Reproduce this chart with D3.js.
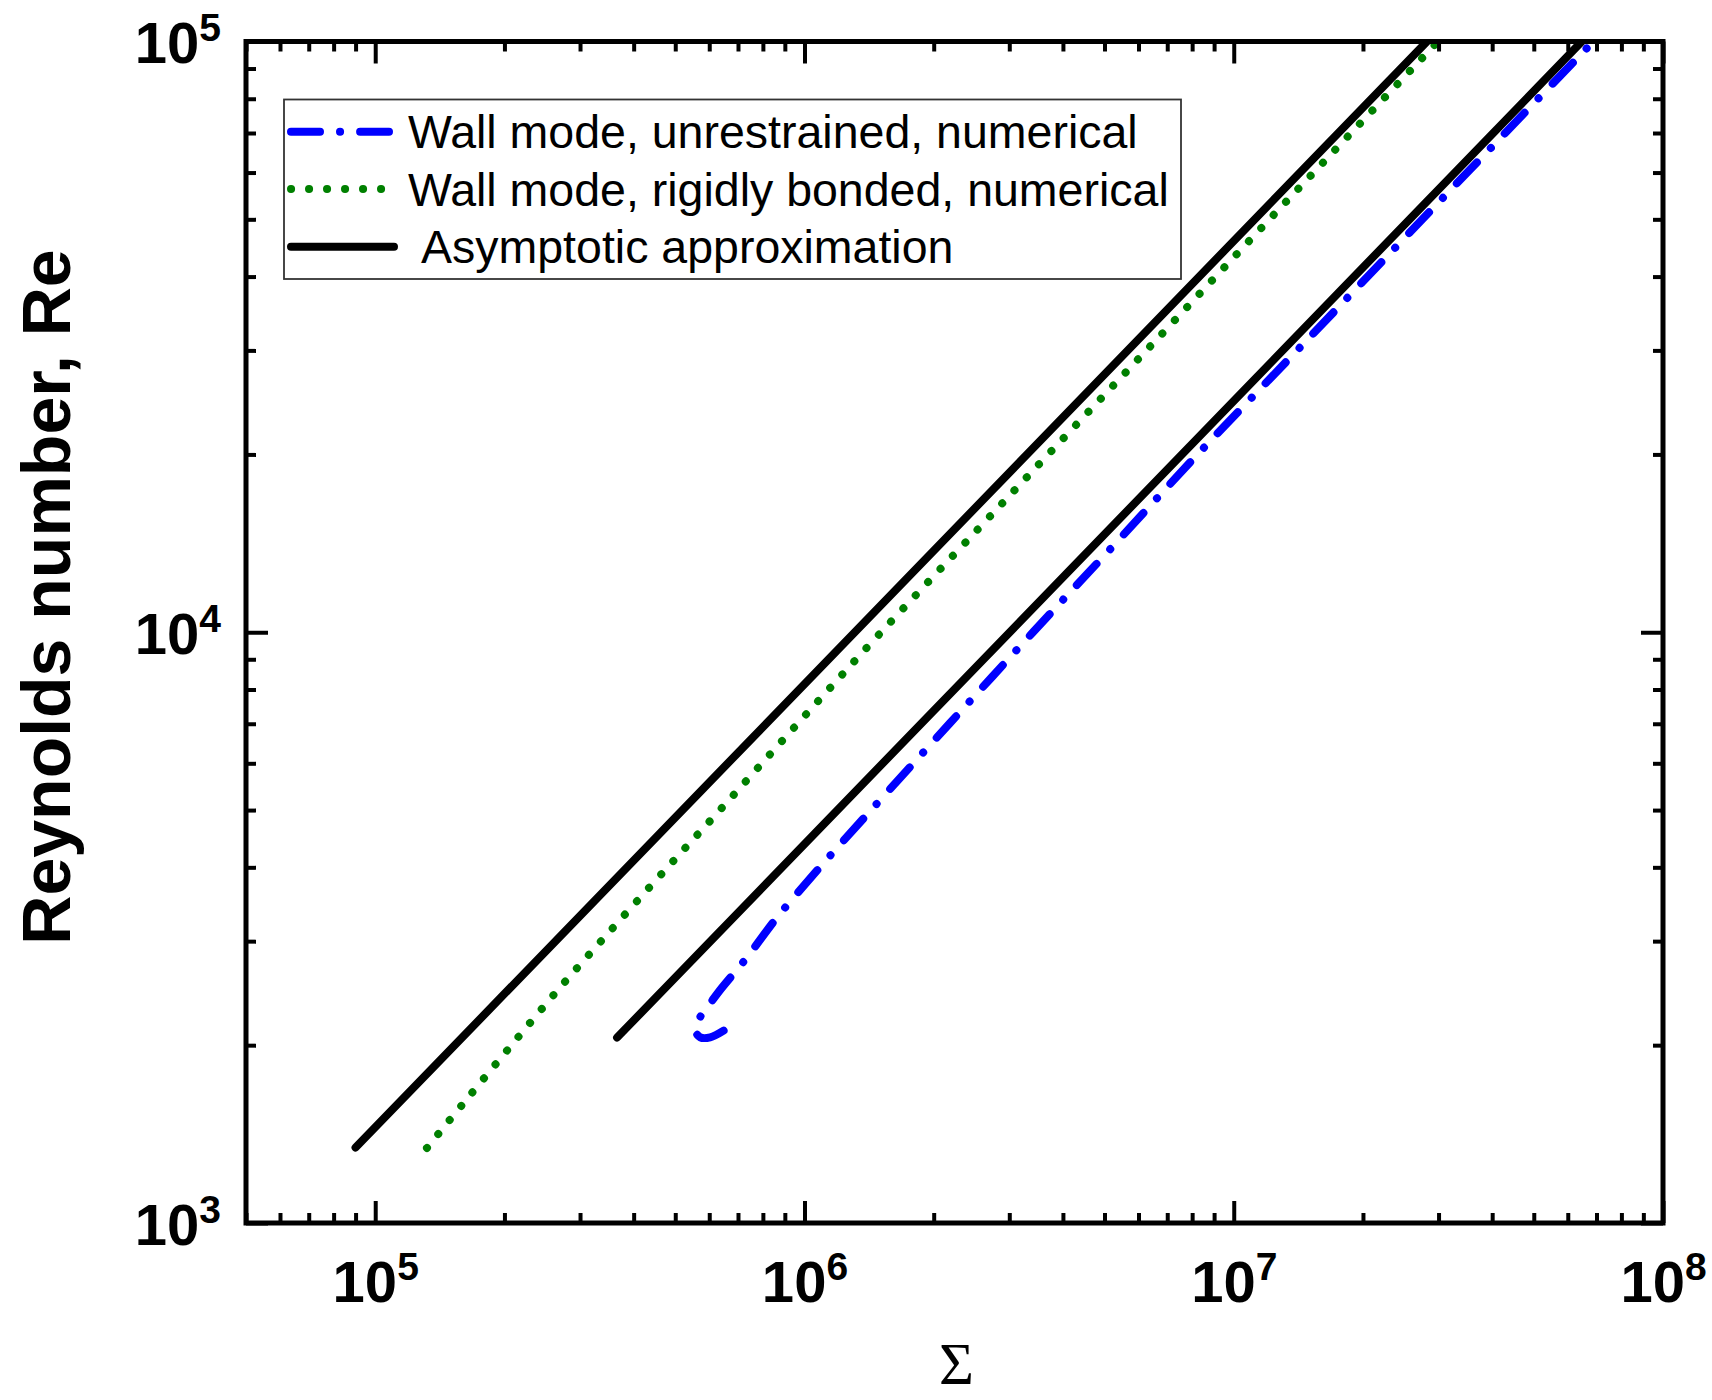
<!DOCTYPE html>
<html>
<head>
<meta charset="utf-8">
<script src="https://cdn.jsdelivr.net/npm/d3@7"></script>
<style>
  html, body { margin: 0; padding: 0; background: #fff; }
</style>
</head>
<body>
<svg id="chart" width="1712" height="1400"></svg>
<script>
// ---- Data: Σ (x) versus critical Reynolds number Re (y) ----

// Wall mode, unrestrained wall – numerical neutral curve (from the nose upward)
const unrestrainedSigma = [6.48e5, 6.03e5, 5.72e5, 5.56e5, 5.72e5, 6.03e5, 6.36e5, 7.30e5, 8.66e5,
                           1.086e6, 1.429e6, 2.175e6, 3.406e6, 5.238e6, 8.235e6, 1.405e7, 2.750e7, 4.699e7, 6.88e7];
const unrestrainedRe    = [2116, 2062, 2062, 2122, 2235, 2354, 2480, 2800, 3300,
                           4000, 5000, 7000, 10000, 14000, 20000, 30000, 50000, 75000, 100000];

// Wall mode, rigidly bonded wall – numerical
const bondedSigma = [1.320e5, 1.611e5, 2.077e5, 2.689e5, 3.358e5, 4.797e5, 6.353e5, 9.634e5,
                     1.508e6, 2.548e6, 3.696e6, 6.259e6, 1.211e7, 1.876e7, 2.991e7];
const bondedRe    = [1340, 1600, 2000, 2500, 3000, 4000, 5000, 7000,
                     10000, 15000, 20000, 30000, 50000, 70000, 100000];

// Asymptotic approximations (straight lines, Re ~ Σ^(3/4))
const asymBondedSigma = [9.0e4, 2.82e7];
const asymBondedRe    = [1342, 100000];
const asymUnrestrainedSigma = [3.66e5, 6.47e7];
const asymUnrestrainedRe    = [2060, 100000];

// Axis ticks
const xMajorTicks = [1e5, 1e6, 1e7, 1e8];
const yMajorTicks = [1e3, 1e4, 1e5];

// Legend entries
const legendLabels = ["Wall mode, unrestrained, numerical",
                      "Wall mode, rigidly bonded, numerical",
                      "Asymptotic approximation"];

// ---- Layout ----
const L = 246, R = 1663, T = 41.5, B = 1223;
const SANS = "'Liberation Sans', Arial, Helvetica, sans-serif";

const svg = d3.select("#chart");

const x = d3.scaleLog().domain([5e4, 1e8]).range([L, R]);
const y = d3.scaleLog().domain([1e3, 1e5]).range([B, T]);

function minorTicks(lo, hi) {
  const out = [];
  for (let e = Math.floor(Math.log10(lo)); e <= Math.ceil(Math.log10(hi)); e++) {
    for (let m = 2; m <= 9; m++) {
      const v = m * Math.pow(10, e);
      if (v >= lo * 0.999 && v <= hi * 1.001) out.push(v);
    }
  }
  return out;
}
const xMinorTicks = minorTicks(5e4, 1e8);
const yMinorTicks = minorTicks(1e3, 1e5);

// ---- Series styles ----
const styles = {
  unrestrained: { color: "#0000ff", width: 8, dash: "29 20 0.1 20" },
  bonded:       { color: "#008000", width: 8, dash: "0.1 17.9" },
  asymptotic:   { color: "#000000", width: 8, dash: null }
};

// ---- Curves ----
svg.append("defs").append("clipPath").attr("id", "plotClip")
  .append("rect").attr("x", L).attr("y", T).attr("width", R - L).attr("height", B - T);

const plot = svg.append("g").attr("clip-path", "url(#plotClip)");

function zip(xs, ys) { return xs.map((v, i) => [v, ys[i]]); }

const smoothLine = d3.line().x(d => x(d[0])).y(d => y(d[1])).curve(d3.curveCatmullRom.alpha(0.5));
const straightLine = d3.line().x(d => x(d[0])).y(d => y(d[1]));

function drawSeries(gen, data, st) {
  const p = plot.append("path")
    .attr("d", gen(data))
    .attr("fill", "none")
    .attr("stroke", st.color)
    .attr("stroke-width", st.width)
    .attr("stroke-linecap", "round")
    .attr("stroke-linejoin", "round");
  if (st.dash) p.attr("stroke-dasharray", st.dash);
}

drawSeries(straightLine, zip(asymBondedSigma, asymBondedRe), styles.asymptotic);
drawSeries(straightLine, zip(asymUnrestrainedSigma, asymUnrestrainedRe), styles.asymptotic);
drawSeries(smoothLine, zip(bondedSigma, bondedRe), styles.bonded);
drawSeries(smoothLine, zip(unrestrainedSigma, unrestrainedRe), styles.unrestrained);

// ---- Axes (ticks point inward on all four sides) ----
function styleTicks(g, width) {
  g.select(".domain").remove();
  g.selectAll(".tick line").attr("stroke", "#000").attr("stroke-width", width);
}

// Power-of-ten tick labels: "10" with a raised exponent
function powerLabel(sel, anchor, xPos, yPos) {
  sel.each(function (d) {
    const t = d3.select(this);
    t.text(null)
      .attr("x", xPos).attr("y", yPos).attr("dy", null)
      .attr("text-anchor", anchor)
      .attr("font-family", SANS)
      .attr("font-weight", "bold")
      .attr("font-size", 58)
      .attr("fill", "#000");
    t.append("tspan").text("10");
    t.append("tspan").attr("dy", -22).attr("font-size", 39).text(Math.round(Math.log10(d)));
  });
}

// bottom
const gxB = svg.append("g").attr("transform", `translate(0,${B})`)
  .call(d3.axisBottom(x).tickValues(xMajorTicks).tickSizeInner(-22).tickSizeOuter(0).tickFormat(d => d));
styleTicks(gxB, 4);
powerLabel(gxB.selectAll(".tick text"), "middle", 0, 79);

svg.append("g").attr("transform", `translate(0,${B})`)
  .call(d3.axisBottom(x).tickValues(xMinorTicks).tickSizeInner(-10).tickSizeOuter(0).tickFormat(""))
  .call(g => styleTicks(g, 4));

// top
svg.append("g").attr("transform", `translate(0,${T})`)
  .call(d3.axisTop(x).tickValues(xMajorTicks).tickSizeInner(-22).tickSizeOuter(0).tickFormat(""))
  .call(g => styleTicks(g, 4));
svg.append("g").attr("transform", `translate(0,${T})`)
  .call(d3.axisTop(x).tickValues(xMinorTicks).tickSizeInner(-10).tickSizeOuter(0).tickFormat(""))
  .call(g => styleTicks(g, 4));

// left
const gyL = svg.append("g").attr("transform", `translate(${L},0)`)
  .call(d3.axisLeft(y).tickValues(yMajorTicks).tickSizeInner(-22).tickSizeOuter(0).tickFormat(d => d));
styleTicks(gyL, 4);
powerLabel(gyL.selectAll(".tick text"), "end", -25, 21);

svg.append("g").attr("transform", `translate(${L},0)`)
  .call(d3.axisLeft(y).tickValues(yMinorTicks).tickSizeInner(-10).tickSizeOuter(0).tickFormat(""))
  .call(g => styleTicks(g, 4));

// right
svg.append("g").attr("transform", `translate(${R},0)`)
  .call(d3.axisRight(y).tickValues(yMajorTicks).tickSizeInner(-22).tickSizeOuter(0).tickFormat(""))
  .call(g => styleTicks(g, 4));
svg.append("g").attr("transform", `translate(${R},0)`)
  .call(d3.axisRight(y).tickValues(yMinorTicks).tickSizeInner(-10).tickSizeOuter(0).tickFormat(""))
  .call(g => styleTicks(g, 4));

// frame
svg.append("rect")
  .attr("x", L).attr("y", T).attr("width", R - L).attr("height", B - T)
  .attr("fill", "none").attr("stroke", "#000").attr("stroke-width", 5)
  .attr("stroke-linejoin", "miter");

// ---- Axis titles ----
svg.append("text")
  .attr("transform", `translate(70,597) rotate(-90)`)
  .attr("text-anchor", "middle")
  .attr("font-family", SANS).attr("font-weight", "bold").attr("font-size", 68)
  .attr("fill", "#000")
  .text("Reynolds number, Re");

svg.append("text")
  .attr("x", (L + R) / 2 + 2).attr("y", 1384)
  .attr("text-anchor", "middle")
  .attr("font-family", "'Liberation Serif', 'Times New Roman', serif")
  .attr("font-size", 60)
  .attr("fill", "#000")
  .text("Σ");

// ---- Legend ----
const legend = svg.append("g");
legend.append("rect")
  .attr("x", 284).attr("y", 99.5).attr("width", 897).attr("height", 179.5)
  .attr("fill", "#fff").attr("stroke", "#333").attr("stroke-width", 1.8);

const legendStyles = [styles.unrestrained, styles.bonded, styles.asymptotic];
const legendRowY = [131.7, 189, 246.7];
const legendSampleEnd = [389, 385, 394];
const legendTextX = [408, 408, 421];

legendLabels.forEach((label, i) => {
  const st = legendStyles[i];
  const p = legend.append("line")
    .attr("x1", 291).attr("x2", legendSampleEnd[i])
    .attr("y1", legendRowY[i]).attr("y2", legendRowY[i])
    .attr("stroke", st.color).attr("stroke-width", st.width)
    .attr("stroke-linecap", "round");
  if (st.dash) p.attr("stroke-dasharray", st.dash);
  legend.append("text")
    .attr("x", legendTextX[i]).attr("y", legendRowY[i] + 16.5)
    .attr("font-family", SANS).attr("font-size", 46.5)
    .attr("fill", "#000")
    .text(label);
});
</script>
</body>
</html>
